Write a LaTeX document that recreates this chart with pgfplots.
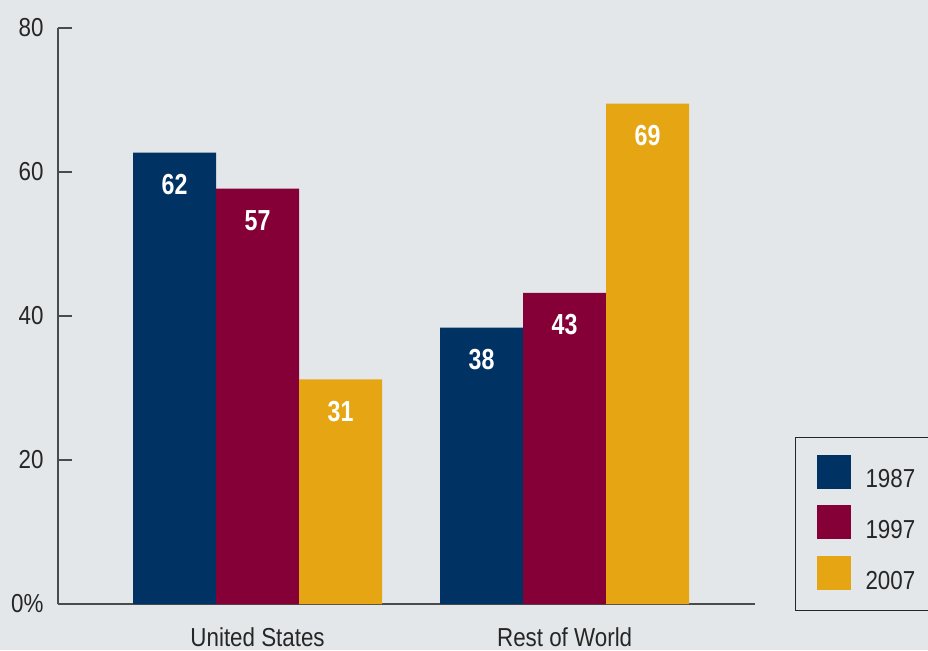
\documentclass[border=0pt]{standalone}
\usepackage{pgfplots}
\pgfplotsset{compat=1.18}
\usepackage{fontspec}
\setmainfont{Liberation Sans}[FakeStretch=0.86]
\newfontfamily\lblfont{Liberation Sans}[FakeStretch=0.8]
\definecolor{bg}{RGB}{228,231,234}
\definecolor{navy}{RGB}{0,50,100}
\definecolor{crim}{RGB}{133,0,55}
\definecolor{gold}{RGB}{230,166,20}
\definecolor{axgray}{RGB}{75,75,75}
\begin{document}
\begin{tikzpicture}
\useasboundingbox (0,0) rectangle (928pt,650pt);
\fill[bg] (0,0) rectangle (928pt,650pt);
\begin{axis}[
  at={(58pt,46pt)}, anchor=south west,
  scale only axis, width=697pt, height=576pt,
  xmin=-0.65, xmax=1.62, ymin=0, ymax=80,
  axis x line=bottom, axis y line=left,
  axis line style={-, axgray, line width=1.3pt},
  ytick={0,20,40,60,80}, yticklabels={0\%,20,40,60,80},
  xtick={0,1}, xticklabels={United States,Rest of World},
  tick align=inside, major tick length=14pt,
  ytick style={axgray, line width=1.3pt},
  xtick style={draw=none},
  /pgf/number format/assume math mode=true,
  yticklabel style={font=\fontsize{26}{30}\selectfont, text=black!85, xshift=-11pt},
  xticklabel style={font=\fontsize{26}{30}\selectfont, text=black!85, yshift=-6pt},
  ybar, bar width=83pt,
  nodes near coords, point meta=explicit symbolic,
  nodes near coords style={anchor=center, yshift=-32pt, text=white,
    font=\lblfont\bfseries\fontsize{29}{32}\selectfont},
  legend image code/.code={\fill[#1] (0pt,-9pt) rectangle (34pt,25pt);},
  legend cell align=left,
  legend style={at={(1.0574,0.2899)}, anchor=north west,
    draw=black!85, line width=1pt, fill=none,
    inner xsep=21pt, inner ysep=17pt, row sep=14pt, column sep=13pt,
    font=\fontsize{26}{30}\selectfont, text=black!85},
]
\addplot[fill=navy, draw=none, bar shift=-83pt] coordinates {(0,62.7)[62] (1,38.4)[38]};
\addplot[fill=crim, draw=none, bar shift=0pt] coordinates {(0,57.7)[57] (1,43.2)[43]};
\addplot[fill=gold, draw=none, bar shift=83pt] coordinates {(0,31.2)[31] (1,69.5)[69]};
\legend{1987,1997,2007}
\end{axis}
\end{tikzpicture}
\end{document}
